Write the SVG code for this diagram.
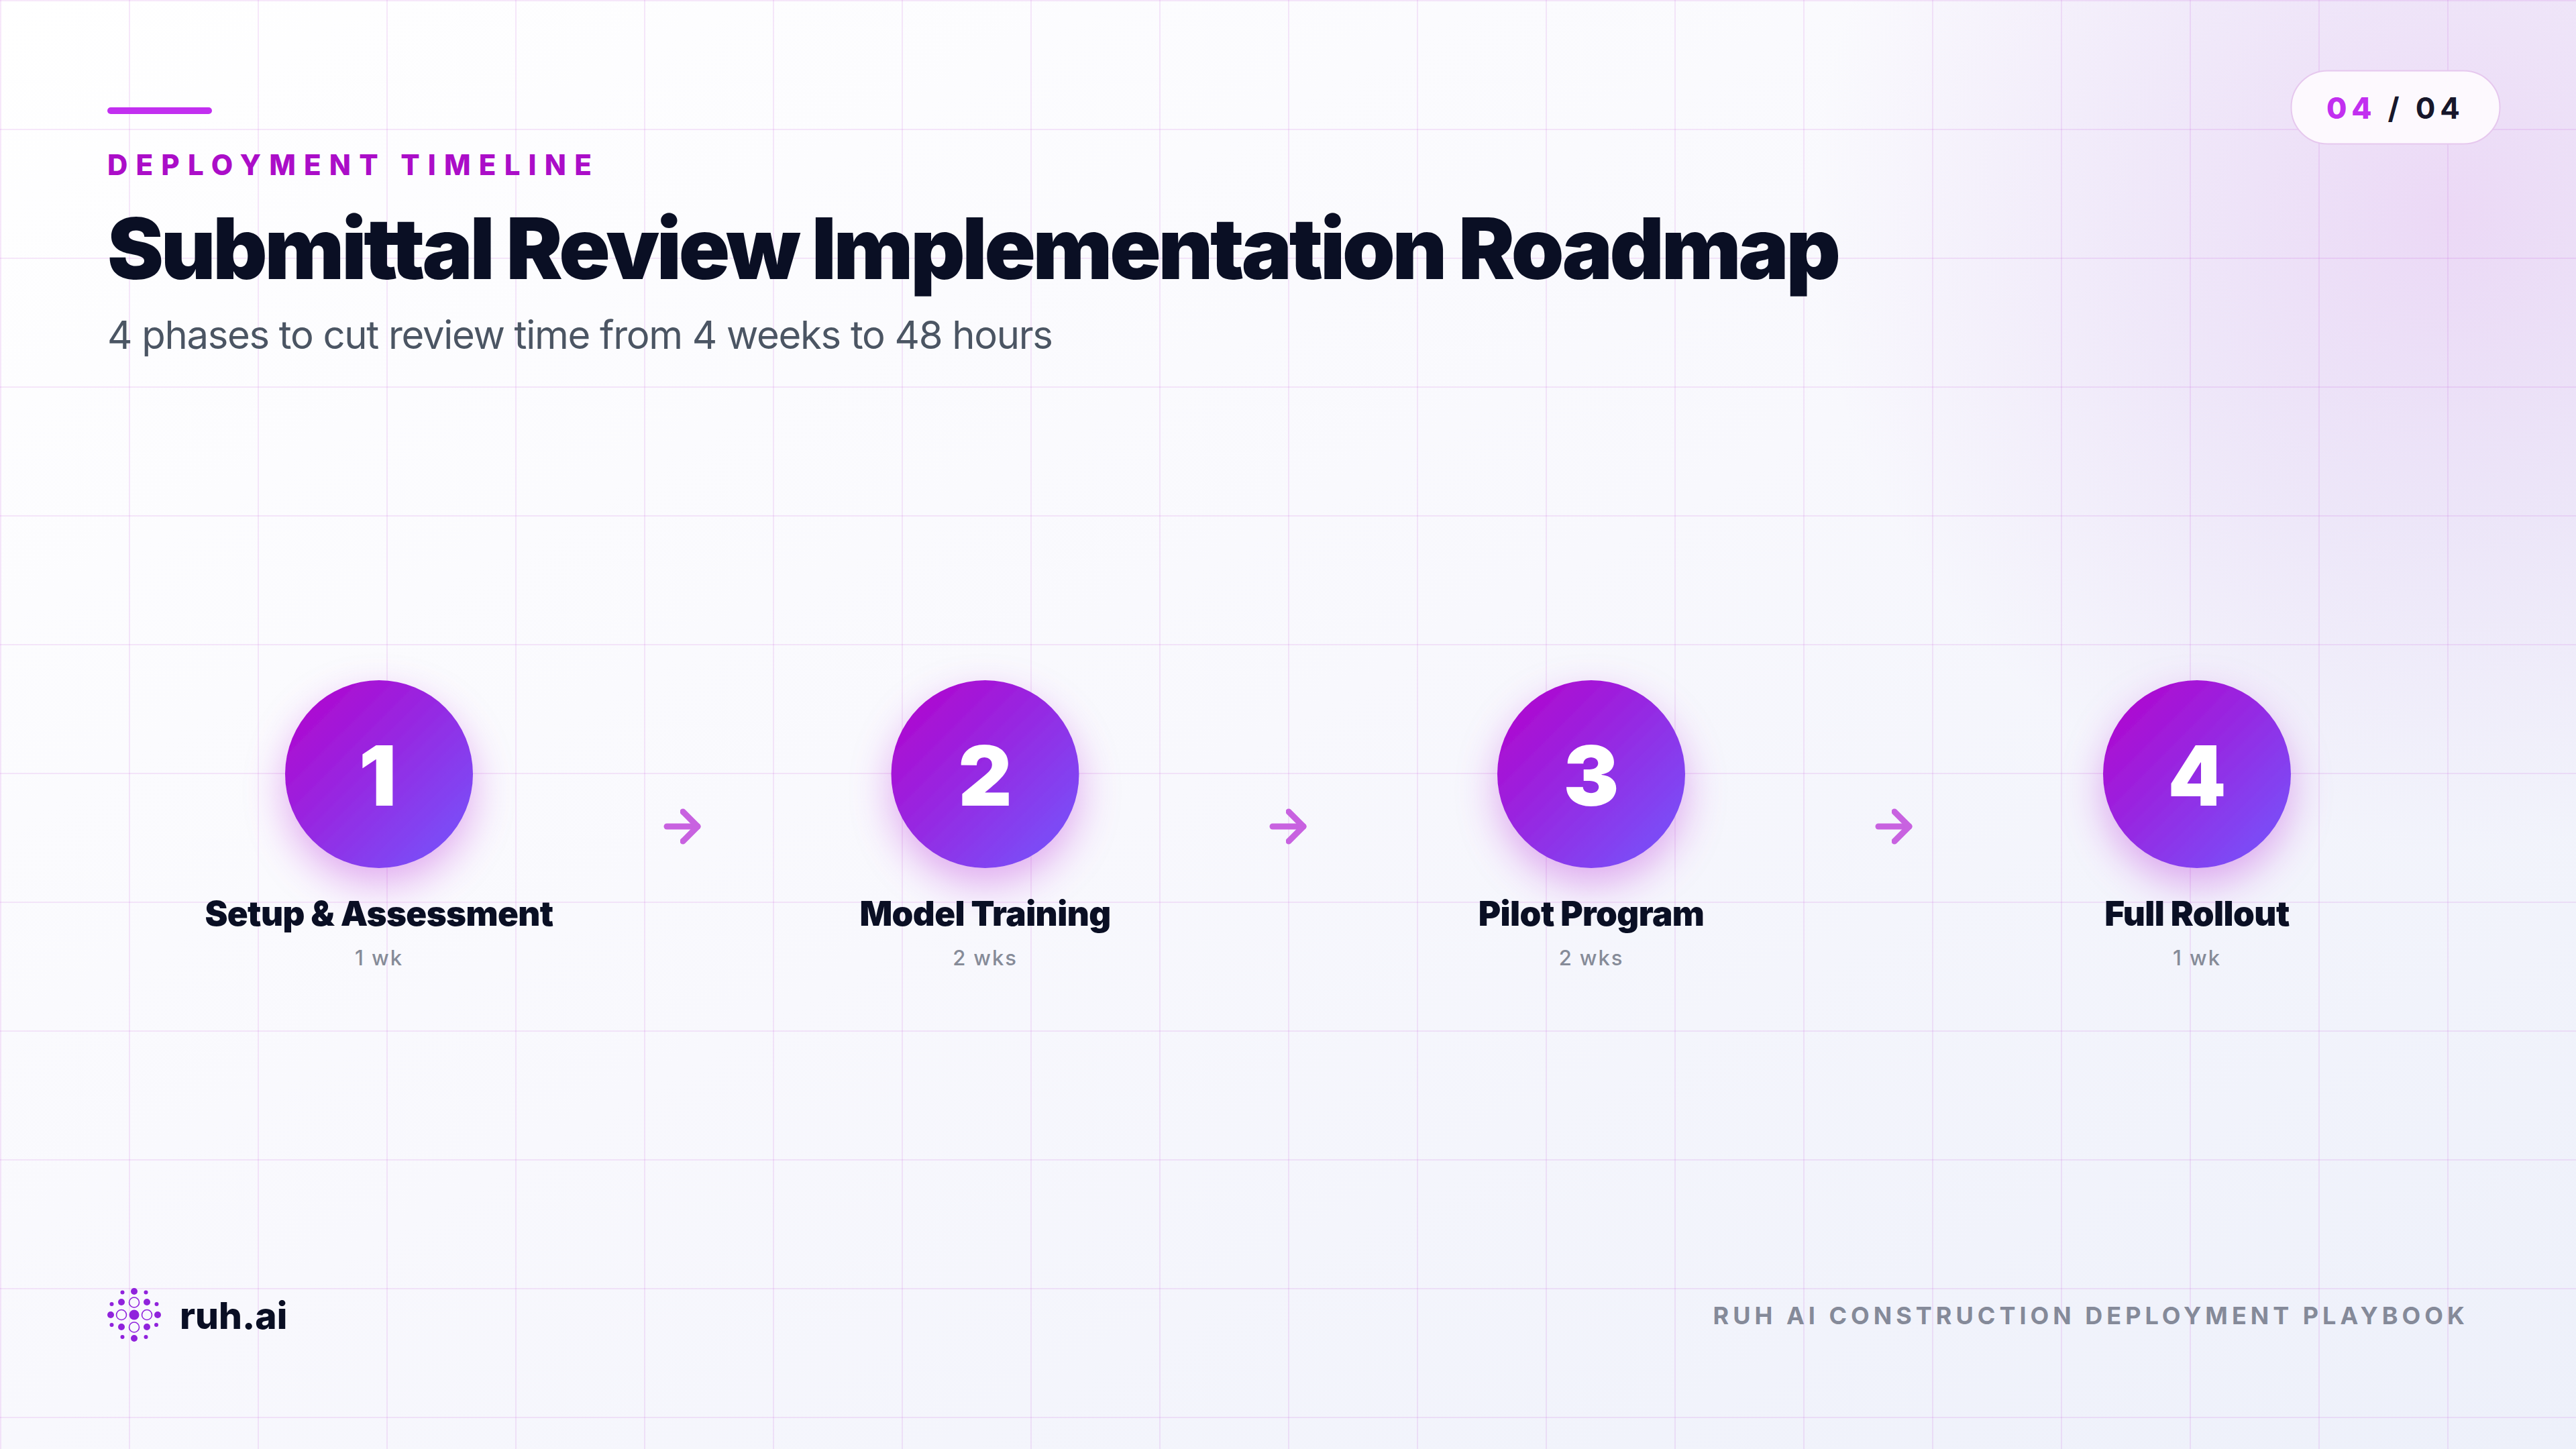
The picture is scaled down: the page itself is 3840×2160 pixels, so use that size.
<svg xmlns="http://www.w3.org/2000/svg" width="3840" height="2160" viewBox="0 0 3840 2160">
<defs>
<linearGradient id="bg" x1="0" y1="0" x2="1" y2="1"><stop offset="0" stop-color="#ffffff"/><stop offset="0.5" stop-color="#f8f8fd"/><stop offset="1" stop-color="#edf0fa"/></linearGradient>
<radialGradient id="glow" gradientUnits="userSpaceOnUse" cx="3650" cy="320" r="950"><stop offset="0" stop-color="#c878e0" stop-opacity="0.24"/><stop offset="0.5" stop-color="#b880e0" stop-opacity="0.13"/><stop offset="1" stop-color="#b880e0" stop-opacity="0"/></radialGradient>
<linearGradient id="disc" x1="0.15" y1="0.15" x2="0.85" y2="0.85"><stop offset="0" stop-color="#ab0dd2"/><stop offset="1" stop-color="#7c4bf6"/></linearGradient>
<pattern id="grid" width="192" height="192" patternUnits="userSpaceOnUse"><rect width="192" height="2" fill="#b01ed2" fill-opacity="0.1"/><rect width="2" height="192" fill="#b01ed2" fill-opacity="0.1"/></pattern>
<filter id="sh" x="-60%" y="-60%" width="220%" height="220%"><feDropShadow dx="0" dy="24" stdDeviation="30" flood-color="#ac10d2" flood-opacity="0.32"/></filter>
<marker id="head" markerUnits="userSpaceOnUse" markerWidth="40" markerHeight="60" refX="26" refY="30" orient="auto"><path d="M4 8 26 30 4 52" fill="none" stroke="#c862e0" stroke-width="9" stroke-linecap="round" stroke-linejoin="round"/></marker>
</defs>
<style>
text{font-family:"Inter","Noto Sans","Liberation Sans",sans-serif}
.name{font-size:51px;font-weight:900;fill:#0a0f24;text-anchor:middle;letter-spacing:-.6px}
.dur{font-size:31px;font-weight:500;fill:#868b98;text-anchor:middle;letter-spacing:1.9px}
.num{font-size:124px;font-weight:900;fill:#fff;text-anchor:middle}
.arrow{fill:none;stroke:#c862e0;stroke-width:9;stroke-linecap:round;marker-end:url(#head)}
.lf{fill:#9022dc}.lo{fill:none;stroke:#9022dc;stroke-width:1.6}
</style>
<rect id="background" width="3840" height="2160" fill="url(#bg)"/>
<rect width="3840" height="2160" fill="url(#glow)"/>
<rect width="3840" height="2160" fill="url(#grid)"/>
<rect id="accent-bar" x="160" y="160" width="156" height="10" rx="5" fill="#c22ff0"/>
<text id="eyebrow" x="160" y="261" font-size="42" font-weight="800" fill="#ab0dc8" letter-spacing="12.2">DEPLOYMENT TIMELINE</text>
<text id="title" x="160" y="416" font-size="126" font-weight="900" fill="#0a0f24" letter-spacing="-4.2">Submittal Review Implementation Roadmap</text>
<text id="subtitle" x="160" y="520" font-size="58" font-weight="400" fill="#4b5563" letter-spacing="-1.3">4 phases to cut review time from 4 weeks to 48 hours</text>
<g id="page-pill"><rect x="3415.500" y="105.500" width="311" height="109" rx="54" fill="#fdf9fe" stroke="#e6c8ee" stroke-width="2"/>
<text x="3468" y="177" font-size="44" font-weight="800" letter-spacing="6.800" fill="#c22ff0">04<tspan fill="#17172b" font-weight="700"> / 04</tspan></text></g>
<g id="connectors">
<path class="arrow" d="M994 1232H1040"/>
<path class="arrow" d="M1897 1232H1943"/>
<path class="arrow" d="M2800 1232H2846"/>
</g>
<g id="node-1"><circle cx="565" cy="1154" r="140" fill="url(#disc)" filter="url(#sh)"/><text class="num" x="563" y="1201">1</text><text class="name" x="565" y="1380">Setup &amp; Assessment</text><text class="dur" x="565" y="1439">1 wk</text></g>
<g id="node-2"><circle cx="1468.500" cy="1154" r="140" fill="url(#disc)" filter="url(#sh)"/><text class="num" x="1468.500" y="1201">2</text><text class="name" x="1468.500" y="1380">Model Training</text><text class="dur" x="1468.500" y="1439">2 wks</text></g>
<g id="node-3"><circle cx="2372" cy="1154" r="140" fill="url(#disc)" filter="url(#sh)"/><text class="num" x="2372" y="1201">3</text><text class="name" x="2372" y="1380">Pilot Program</text><text class="dur" x="2372" y="1439">2 wks</text></g>
<g id="node-4"><circle cx="3275" cy="1154" r="140" fill="url(#disc)" filter="url(#sh)"/><text class="num" x="3275" y="1201">4</text><text class="name" x="3275" y="1380">Full Rollout</text><text class="dur" x="3275" y="1439">1 wk</text></g>
<g id="logo">
<circle class="lf" cx="200" cy="1960" r="7.500"/>
<circle class="lo" cx="200" cy="1941.500" r="7.500"/><circle class="lo" cx="200" cy="1978.500" r="7.500"/><circle class="lo" cx="181" cy="1960" r="7.500"/><circle class="lo" cx="219" cy="1960" r="7.500"/>
<circle class="lf" cx="181" cy="1941" r="5"/><circle class="lf" cx="219" cy="1941" r="5"/><circle class="lf" cx="181" cy="1978" r="5"/><circle class="lf" cx="219" cy="1978" r="5"/>
<circle class="lf" cx="200" cy="1925" r="5"/><circle class="lf" cx="200" cy="1995" r="5"/><circle class="lf" cx="165" cy="1960" r="5"/><circle class="lf" cx="235" cy="1960" r="5"/>
<circle class="lf" cx="182.500" cy="1926.500" r="3"/><circle class="lf" cx="217.500" cy="1926.500" r="3"/><circle class="lf" cx="182.500" cy="1993" r="3"/><circle class="lf" cx="217.500" cy="1993" r="3"/>
<circle class="lf" cx="166.500" cy="1944" r="3"/><circle class="lf" cx="233.500" cy="1944" r="3"/><circle class="lf" cx="166.500" cy="1975" r="3"/><circle class="lf" cx="233" cy="1975" r="3"/>
<text x="268" y="1981" font-size="55" font-weight="800" fill="#0a0f24">ruh.ai</text></g>
<text id="footer" x="3680" y="1974" font-size="36" font-weight="700" fill="#858a99" letter-spacing="6" text-anchor="end">RUH AI CONSTRUCTION DEPLOYMENT PLAYBOOK</text>
</svg>
